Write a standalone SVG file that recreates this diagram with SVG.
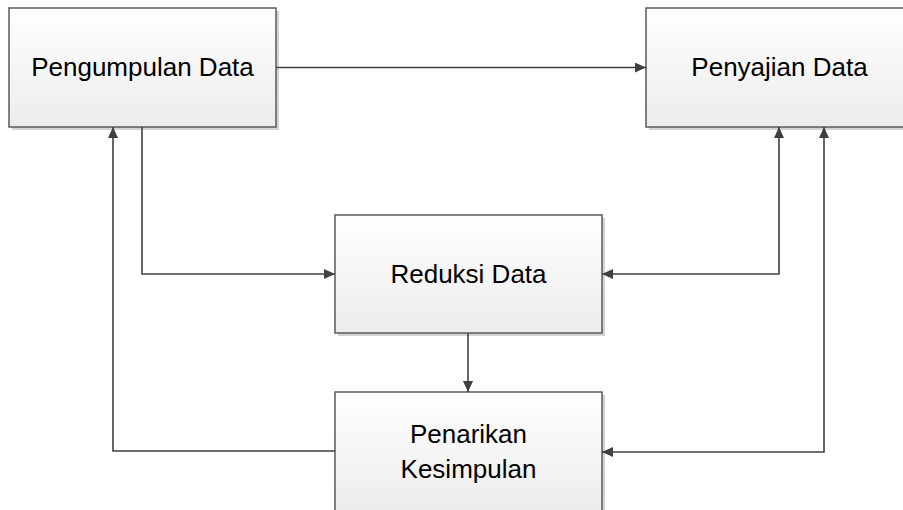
<svg xmlns="http://www.w3.org/2000/svg" width="903" height="510" viewBox="0 0 903 510">
  <style>
    .box { fill: url(#g); stroke: #5a5a5a; stroke-width: 1.5; }
    .shadow { fill: #d4d4d4; }
    .lbl { font-family: "Liberation Sans", Arial, sans-serif; font-size: 26px; fill: #000; text-anchor: middle; }
    .conn { fill: none; stroke: #404040; stroke-width: 1.6; }
  </style>
  <defs>
    <linearGradient id="g" x1="0" y1="0" x2="0" y2="1">
      <stop offset="0" stop-color="#ffffff"/>
      <stop offset="1" stop-color="#ececec"/>
    </linearGradient>
    <marker id="ah" viewBox="0 0 11 10" refX="11" refY="5" markerWidth="11" markerHeight="10" markerUnits="userSpaceOnUse" orient="auto-start-reverse">
      <path d="M0,0 L11,5 L0,10 z" fill="#404040"/>
    </marker>
  </defs>
  <rect width="903" height="510" fill="#ffffff"/>

  <g id="node-pengumpulan">
    <rect class="shadow" x="12" y="11" width="267" height="119"/>
    <rect class="box" x="9" y="8" width="267" height="119"/>
    <text class="lbl" x="142.5" y="76">Pengumpulan Data</text>
  </g>

  <g id="node-penyajian">
    <rect class="shadow" x="649" y="11" width="267" height="119"/>
    <rect class="box" x="646" y="8" width="267" height="119"/>
    <text class="lbl" x="779.5" y="76">Penyajian Data</text>
  </g>

  <g id="node-reduksi">
    <rect class="shadow" x="338" y="218" width="267" height="118"/>
    <rect class="box" x="335" y="215" width="267" height="118"/>
    <text class="lbl" x="468.5" y="283">Reduksi Data</text>
  </g>

  <g id="node-penarikan">
    <rect class="shadow" x="338" y="395" width="267" height="119"/>
    <rect class="box" x="335" y="392" width="267" height="119"/>
    <text class="lbl" x="468.5" y="443">Penarikan</text>
    <text class="lbl" x="468.5" y="478">Kesimpulan</text>
  </g>

  <g id="connectors">
    <path class="conn" d="M276,67.5 H646" marker-end="url(#ah)"/>
    <path class="conn" d="M142,127 V274 H335" marker-end="url(#ah)"/>
    <path class="conn" d="M335,451 H113 V127" marker-end="url(#ah)"/>
    <path class="conn" d="M602,274 H779 V127" marker-start="url(#ah)" marker-end="url(#ah)"/>
    <path class="conn" d="M602,452 H824 V127" marker-start="url(#ah)" marker-end="url(#ah)"/>
    <path class="conn" d="M468,333 V392" marker-end="url(#ah)"/>
  </g>
</svg>
